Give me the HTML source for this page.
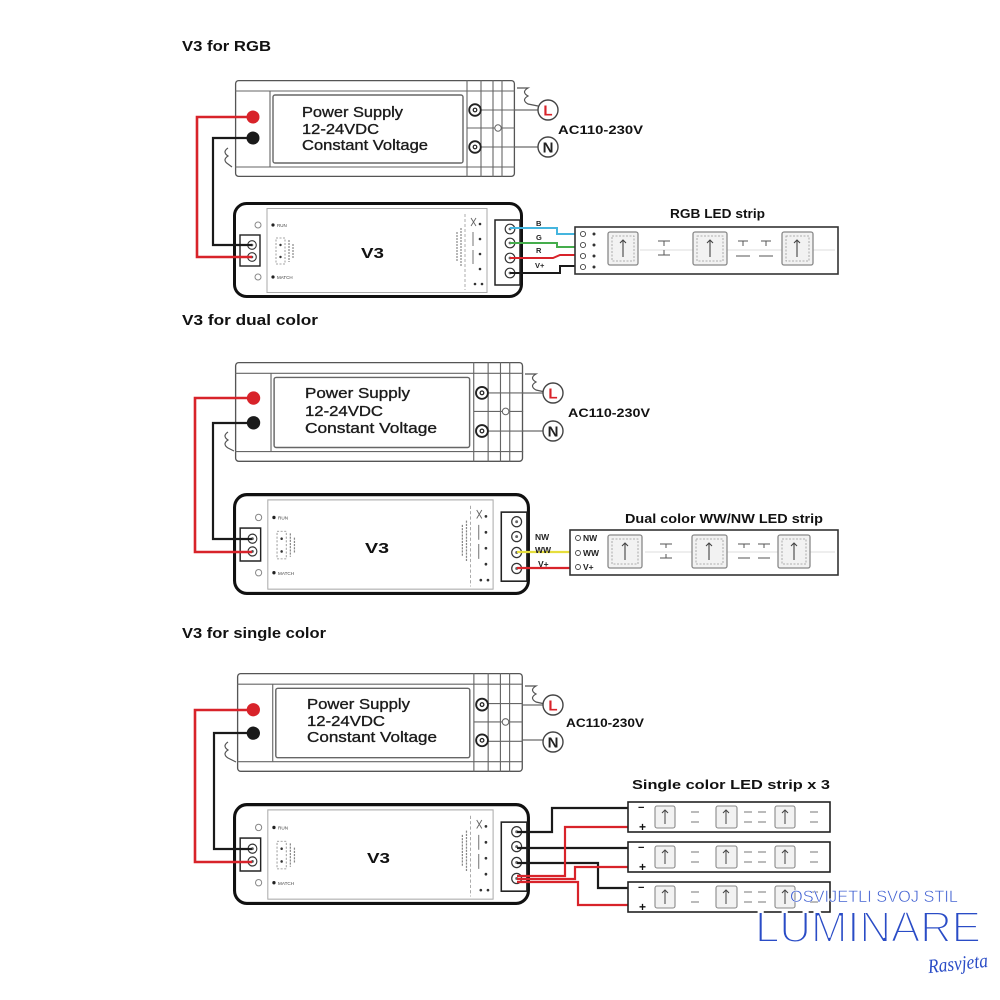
<!DOCTYPE html>
<html>
<head>
<meta charset="utf-8">
<style>
html,body{margin:0;padding:0;background:#fff;}
svg{display:block;}
text{font-family:"Liberation Sans",Arial,sans-serif;}
</style>
</head>
<body>
<svg width="1000" height="1000" viewBox="0 0 1000 1000" xmlns="http://www.w3.org/2000/svg">
<rect width="1000" height="1000" fill="#fff"/>

<!-- ================= SECTION 1 : RGB ================= -->
<text x="182" y="51" font-size="14.5" font-weight="bold" fill="#111" textLength="89" lengthAdjust="spacingAndGlyphs">V3 for RGB</text>

<g transform="translate(235,80)">
  <rect x="0.6" y="0.6" width="278.8" height="95.8" rx="3" fill="#fff" stroke="#555" stroke-width="1.3"/>
  <g stroke="#666" stroke-width="1.1" fill="none">
    <line x1="0" y1="11" x2="280" y2="11"/><line x1="0" y1="87" x2="280" y2="87"/>
    <line x1="35" y1="11" x2="35" y2="87"/>
    <line x1="232" y1="0" x2="232" y2="97"/><line x1="246" y1="0" x2="246" y2="97"/>
    <line x1="258" y1="0" x2="258" y2="97"/><line x1="267" y1="0" x2="267" y2="97"/>
    <line x1="232" y1="48" x2="280" y2="48"/>
    <line x1="246" y1="30" x2="280" y2="30"/><line x1="246" y1="67" x2="280" y2="67"/>
  </g>
  <rect x="38" y="15" width="190" height="68" rx="2" fill="#fff" stroke="#666" stroke-width="1.4"/>
  <circle cx="263" cy="48" r="3.2" fill="#fff" stroke="#666"/>
  <circle cx="240" cy="30" r="5.8" fill="#fff" stroke="#222" stroke-width="1.8"/><circle cx="240" cy="30" r="1.8" fill="none" stroke="#222" stroke-width="1.2"/>
  <circle cx="240" cy="67" r="5.8" fill="#fff" stroke="#222" stroke-width="1.8"/><circle cx="240" cy="67" r="1.8" fill="none" stroke="#222" stroke-width="1.2"/>
  <circle cx="18" cy="37" r="6.5" fill="#d8232a"/>
  <circle cx="18" cy="58" r="6.5" fill="#1a1a1a"/>
</g>
<g fill="#1a1a1a" stroke="#222" stroke-width="0.35">
  <text x="302" y="117" font-size="14.5" textLength="101" lengthAdjust="spacingAndGlyphs">Power Supply</text>
  <text x="302" y="134" font-size="14.5" textLength="77" lengthAdjust="spacingAndGlyphs">12-24VDC</text>
  <text x="302" y="150" font-size="14.5" textLength="126" lengthAdjust="spacingAndGlyphs">Constant Voltage</text>
</g>
<path d="M228,148 Q222,152 228,156 Q222,160 228,164 L232,167" fill="none" stroke="#555" stroke-width="1.2"/>
<path d="M517,88 H528 Q521,92 528,96 Q521,100 528,104 L538,106" fill="none" stroke="#555" stroke-width="1.2"/>
<g stroke="#444" stroke-width="1.1"><line x1="515" y1="110" x2="538" y2="110"/><line x1="515" y1="147" x2="538" y2="147"/></g>
<circle cx="548" cy="110" r="10" fill="#fff" stroke="#444" stroke-width="1.4"/>
<circle cx="548" cy="147" r="10" fill="#fff" stroke="#444" stroke-width="1.4"/>
<text x="548" y="115.5" font-size="15" font-weight="bold" fill="#d8232a" text-anchor="middle">L</text>
<text x="548" y="152.5" font-size="15" font-weight="bold" fill="#222" text-anchor="middle">N</text>
<text x="558" y="134" font-size="12" font-weight="bold" fill="#111" textLength="85" lengthAdjust="spacingAndGlyphs">AC110-230V</text>

<g transform="translate(233,202)">
  <rect x="1.5" y="1.5" width="287" height="93" rx="12" fill="#fff" stroke="#111" stroke-width="3"/>
  <rect x="34" y="6.5" width="220" height="84" fill="none" stroke="#aaa" stroke-width="1"/>
  <rect x="7" y="33" width="20" height="31" fill="#fff" stroke="#222" stroke-width="1.4"/>
  <g fill="#fff" stroke="#333" stroke-width="1.1"><circle cx="19" cy="43" r="4.3"/><circle cx="19" cy="55" r="4.3"/></g>
  <g fill="#555"><circle cx="19" cy="43" r="1.3"/><circle cx="19" cy="55" r="1.3"/></g>
  <g fill="none" stroke="#888" stroke-width="1"><circle cx="25" cy="23" r="3"/><circle cx="25" cy="75" r="3"/></g>
  <circle cx="40" cy="23" r="1.6" fill="#222"/><circle cx="40" cy="75" r="1.6" fill="#222"/>
  <text x="44" y="25" font-size="4.5" fill="#444">RUN</text><text x="44" y="77" font-size="4.5" fill="#444">MATCH</text>
  <rect x="43" y="36" width="9" height="26" fill="none" stroke="#888" stroke-dasharray="2 1.5" stroke-width="0.8"/>
  <circle cx="47.5" cy="43" r="1.2" fill="#333"/><circle cx="47.5" cy="55" r="1.2" fill="#333"/>
  <path d="M56,38 V60 M60,42 V56" stroke="#888" stroke-width="1.2" stroke-dasharray="2 1"/>
  <path d="M232,12 V88" stroke="#999" stroke-width="0.8" stroke-dasharray="3 2"/>
  <path d="M224,30 V60 M228,26 V64" stroke="#888" stroke-width="1.2" stroke-dasharray="2 1"/>
  <g fill="#333"><circle cx="247" cy="22" r="1.3"/><circle cx="247" cy="37" r="1.3"/><circle cx="247" cy="52" r="1.3"/><circle cx="247" cy="67" r="1.3"/><circle cx="242" cy="82" r="1.3"/><circle cx="249" cy="82" r="1.3"/></g>
  <path d="M238,16 L243,24 M243,16 L238,24 M240,30 V44 M240,48 V62" stroke="#666" stroke-width="0.9"/>
  <rect x="262" y="18" width="25" height="65" fill="#fff" stroke="#222" stroke-width="1.5"/>
  <g fill="#fff" stroke="#333" stroke-width="1.2"><circle cx="277" cy="27" r="4.8"/><circle cx="277" cy="41" r="4.8"/><circle cx="277" cy="56" r="4.8"/><circle cx="277" cy="71" r="4.8"/></g>
  <g fill="#666"><circle cx="277" cy="27" r="1.4"/><circle cx="277" cy="41" r="1.4"/><circle cx="277" cy="56" r="1.4"/><circle cx="277" cy="71" r="1.4"/></g>
</g>
<text x="361" y="258" font-size="15" font-weight="bold" fill="#111" textLength="23" lengthAdjust="spacingAndGlyphs">V3</text>

<path d="M253,117 H197 V257 H252" fill="none" stroke="#d8232a" stroke-width="2.6"/>
<path d="M253,138 H213 V245 H252" fill="none" stroke="#1a1a1a" stroke-width="2.2"/>

<path d="M510,228 H557 V234 H578" fill="none" stroke="#45b5de" stroke-width="2"/>
<path d="M510,243 H557 V247 H578" fill="none" stroke="#45ad4c" stroke-width="2"/>
<path d="M510,258 H553 L560,255 H578" fill="none" stroke="#d8232a" stroke-width="2"/>
<path d="M510,273 H560 V266 H578" fill="none" stroke="#1a1a1a" stroke-width="2"/>
<g font-size="7.5" font-weight="bold" fill="#222">
  <text x="536" y="226">B</text><text x="536" y="240">G</text><text x="536" y="253">R</text><text x="535" y="268">V+</text>
</g>

<text x="670" y="218" font-size="12.5" font-weight="bold" fill="#111" textLength="95" lengthAdjust="spacingAndGlyphs">RGB LED strip</text>
<rect x="575" y="227" width="263" height="47" fill="#fff" stroke="#333" stroke-width="1.6"/>
<line x1="640" y1="250" x2="835" y2="250" stroke="#ddd" stroke-width="1"/>
<g fill="#fff" stroke="#444" stroke-width="0.9"><circle cx="583" cy="234" r="2.6"/><circle cx="583" cy="245" r="2.6"/><circle cx="583" cy="256" r="2.6"/><circle cx="583" cy="267" r="2.6"/></g>
<g fill="#333"><circle cx="594" cy="234" r="1.5"/><circle cx="594" cy="245" r="1.5"/><circle cx="594" cy="256" r="1.5"/><circle cx="594" cy="267" r="1.5"/></g>
<g>
  <rect x="608" y="232" width="30" height="33" rx="2" fill="#f2f2f2" stroke="#888" stroke-width="1.3"/>
  <rect x="612" y="236" width="22" height="25" fill="none" stroke="#999" stroke-width="0.8" stroke-dasharray="2 1.5"/>
  <path d="M623,240 V257 M620,243 L623,240 L626,243" fill="none" stroke="#444" stroke-width="1.1"/>
  <rect x="693" y="232" width="34" height="33" rx="2" fill="#f2f2f2" stroke="#888" stroke-width="1.3"/>
  <rect x="697" y="236" width="26" height="25" fill="none" stroke="#999" stroke-width="0.8" stroke-dasharray="2 1.5"/>
  <path d="M710,240 V257 M707,243 L710,240 L713,243" fill="none" stroke="#444" stroke-width="1.1"/>
  <rect x="782" y="232" width="31" height="33" rx="2" fill="#f2f2f2" stroke="#888" stroke-width="1.3"/>
  <rect x="786" y="236" width="23" height="25" fill="none" stroke="#999" stroke-width="0.8" stroke-dasharray="2 1.5"/>
  <path d="M797,240 V257 M794,243 L797,240 L800,243" fill="none" stroke="#444" stroke-width="1.1"/>
  <path d="M658,241 H670 M664,241 V246 M658,255 H670 M664,250 V255" stroke="#555" stroke-width="1"/>
  <path d="M738,241 H748 M743,241 V246 M736,256 H750 M761,241 H771 M766,241 V246 M759,256 H773" stroke="#555" stroke-width="1"/>
</g>

<!-- ================= SECTION 2 : DUAL ================= -->
<text x="182" y="325" font-size="14.5" font-weight="bold" fill="#111" textLength="136" lengthAdjust="spacingAndGlyphs">V3 for dual color</text>

<g transform="translate(235,362) scale(1.029,1.03)">
  <rect x="0.6" y="0.6" width="278.8" height="95.8" rx="3" fill="#fff" stroke="#555" stroke-width="1.3"/>
  <g stroke="#666" stroke-width="1.1" fill="none">
    <line x1="0" y1="11" x2="280" y2="11"/><line x1="0" y1="87" x2="280" y2="87"/>
    <line x1="35" y1="11" x2="35" y2="87"/>
    <line x1="232" y1="0" x2="232" y2="97"/><line x1="246" y1="0" x2="246" y2="97"/>
    <line x1="258" y1="0" x2="258" y2="97"/><line x1="267" y1="0" x2="267" y2="97"/>
    <line x1="232" y1="48" x2="280" y2="48"/>
    <line x1="246" y1="30" x2="280" y2="30"/><line x1="246" y1="67" x2="280" y2="67"/>
  </g>
  <rect x="38" y="15" width="190" height="68" rx="2" fill="#fff" stroke="#666" stroke-width="1.4"/>
  <circle cx="263" cy="48" r="3.2" fill="#fff" stroke="#666"/>
  <circle cx="240" cy="30" r="5.8" fill="#fff" stroke="#222" stroke-width="1.8"/><circle cx="240" cy="30" r="1.8" fill="none" stroke="#222" stroke-width="1.2"/>
  <circle cx="240" cy="67" r="5.8" fill="#fff" stroke="#222" stroke-width="1.8"/><circle cx="240" cy="67" r="1.8" fill="none" stroke="#222" stroke-width="1.2"/>
  <circle cx="18" cy="35" r="6.5" fill="#d8232a"/>
  <circle cx="18" cy="59" r="6.5" fill="#1a1a1a"/>
</g>
<g fill="#1a1a1a" stroke="#222" stroke-width="0.35">
  <text x="305" y="398" font-size="15" textLength="105" lengthAdjust="spacingAndGlyphs">Power Supply</text>
  <text x="305" y="416" font-size="15" textLength="78" lengthAdjust="spacingAndGlyphs">12-24VDC</text>
  <text x="305" y="433" font-size="15" textLength="132" lengthAdjust="spacingAndGlyphs">Constant Voltage</text>
</g>
<path d="M228,432 Q222,436 228,440 Q222,444 228,448 L234,451" fill="none" stroke="#555" stroke-width="1.2"/>
<path d="M525,374 H536 Q529,378 536,382 Q529,386 536,390 L545,392" fill="none" stroke="#555" stroke-width="1.2"/>
<g stroke="#444" stroke-width="1.1"><line x1="523" y1="393" x2="543" y2="393"/><line x1="523" y1="431" x2="543" y2="431"/></g>
<circle cx="553" cy="393" r="10" fill="#fff" stroke="#444" stroke-width="1.4"/>
<circle cx="553" cy="431" r="10" fill="#fff" stroke="#444" stroke-width="1.4"/>
<text x="553" y="398.5" font-size="15" font-weight="bold" fill="#d8232a" text-anchor="middle">L</text>
<text x="553" y="436.5" font-size="15" font-weight="bold" fill="#222" text-anchor="middle">N</text>
<text x="568" y="417" font-size="12" font-weight="bold" fill="#111" textLength="82" lengthAdjust="spacingAndGlyphs">AC110-230V</text>

<g transform="translate(233,493) scale(1.024,1.0625)">
  <rect x="1.5" y="1.5" width="287" height="93" rx="12" fill="#fff" stroke="#111" stroke-width="3"/>
  <rect x="34" y="6.5" width="220" height="84" fill="none" stroke="#aaa" stroke-width="1"/>
  <rect x="7" y="33" width="20" height="31" fill="#fff" stroke="#222" stroke-width="1.4"/>
  <g fill="#fff" stroke="#333" stroke-width="1.1"><circle cx="19" cy="43" r="4.3"/><circle cx="19" cy="55" r="4.3"/></g>
  <g fill="#555"><circle cx="19" cy="43" r="1.3"/><circle cx="19" cy="55" r="1.3"/></g>
  <g fill="none" stroke="#888" stroke-width="1"><circle cx="25" cy="23" r="3"/><circle cx="25" cy="75" r="3"/></g>
  <circle cx="40" cy="23" r="1.6" fill="#222"/><circle cx="40" cy="75" r="1.6" fill="#222"/>
  <text x="44" y="25" font-size="4.5" fill="#444">RUN</text><text x="44" y="77" font-size="4.5" fill="#444">MATCH</text>
  <rect x="43" y="36" width="9" height="26" fill="none" stroke="#888" stroke-dasharray="2 1.5" stroke-width="0.8"/>
  <circle cx="47.5" cy="43" r="1.2" fill="#333"/><circle cx="47.5" cy="55" r="1.2" fill="#333"/>
  <path d="M56,38 V60 M60,42 V56" stroke="#888" stroke-width="1.2" stroke-dasharray="2 1"/>
  <path d="M232,12 V88" stroke="#999" stroke-width="0.8" stroke-dasharray="3 2"/>
  <path d="M224,30 V60 M228,26 V64" stroke="#888" stroke-width="1.2" stroke-dasharray="2 1"/>
  <g fill="#333"><circle cx="247" cy="22" r="1.3"/><circle cx="247" cy="37" r="1.3"/><circle cx="247" cy="52" r="1.3"/><circle cx="247" cy="67" r="1.3"/><circle cx="242" cy="82" r="1.3"/><circle cx="249" cy="82" r="1.3"/></g>
  <path d="M238,16 L243,24 M243,16 L238,24 M240,30 V44 M240,48 V62" stroke="#666" stroke-width="0.9"/>
  <rect x="262" y="18" width="25" height="65" fill="#fff" stroke="#222" stroke-width="1.5"/>
  <g fill="#fff" stroke="#333" stroke-width="1.2"><circle cx="277" cy="27" r="4.8"/><circle cx="277" cy="41" r="4.8"/><circle cx="277" cy="56" r="4.8"/><circle cx="277" cy="71" r="4.8"/></g>
  <g fill="#666"><circle cx="277" cy="27" r="1.4"/><circle cx="277" cy="41" r="1.4"/><circle cx="277" cy="56" r="1.4"/><circle cx="277" cy="71" r="1.4"/></g>
</g>
<text x="365" y="553" font-size="15" font-weight="bold" fill="#111" textLength="24" lengthAdjust="spacingAndGlyphs">V3</text>

<path d="M253,398 H195 V552 H252" fill="none" stroke="#d8232a" stroke-width="2.6"/>
<path d="M253,423 H213 V539 H252" fill="none" stroke="#1a1a1a" stroke-width="2.2"/>

<path d="M517,552 H575" fill="none" stroke="#e6de3c" stroke-width="2.2"/>
<path d="M517,568 H575" fill="none" stroke="#d8232a" stroke-width="2.2"/>
<g font-size="8.5" font-weight="bold" fill="#222">
  <text x="535" y="540">NW</text><text x="535" y="553">WW</text><text x="538" y="567">V+</text>
</g>

<text x="625" y="523" font-size="13" font-weight="bold" fill="#111" textLength="198" lengthAdjust="spacingAndGlyphs">Dual color WW/NW LED strip</text>
<rect x="570" y="530" width="268" height="45" fill="#fff" stroke="#333" stroke-width="1.6"/>
<line x1="645" y1="552" x2="835" y2="552" stroke="#ddd" stroke-width="1"/>
<g fill="#fff" stroke="#444" stroke-width="0.9"><circle cx="578" cy="538" r="2.5"/><circle cx="578" cy="553" r="2.5"/><circle cx="578" cy="567" r="2.5"/></g>
<g font-size="8.5" font-weight="bold" fill="#222">
  <text x="583" y="541">NW</text><text x="583" y="556">WW</text><text x="583" y="570">V+</text>
</g>
<g>
  <rect x="608" y="535" width="34" height="33" rx="2" fill="#f2f2f2" stroke="#888" stroke-width="1.3"/>
  <rect x="612" y="539" width="26" height="25" fill="none" stroke="#999" stroke-width="0.8" stroke-dasharray="2 1.5"/>
  <path d="M625,543 V560 M622,546 L625,543 L628,546" fill="none" stroke="#444" stroke-width="1.1"/>
  <rect x="692" y="535" width="35" height="33" rx="2" fill="#f2f2f2" stroke="#888" stroke-width="1.3"/>
  <rect x="696" y="539" width="27" height="25" fill="none" stroke="#999" stroke-width="0.8" stroke-dasharray="2 1.5"/>
  <path d="M709,543 V560 M706,546 L709,543 L712,546" fill="none" stroke="#444" stroke-width="1.1"/>
  <rect x="778" y="535" width="32" height="33" rx="2" fill="#f2f2f2" stroke="#888" stroke-width="1.3"/>
  <rect x="782" y="539" width="24" height="25" fill="none" stroke="#999" stroke-width="0.8" stroke-dasharray="2 1.5"/>
  <path d="M794,543 V560 M791,546 L794,543 L797,546" fill="none" stroke="#444" stroke-width="1.1"/>
  <path d="M660,544 H672 M666,544 V548 M660,558 H672 M666,554 V558" stroke="#555" stroke-width="1"/>
  <path d="M738,544 H750 M744,544 V548 M738,558 H750 M758,544 H770 M764,544 V548 M758,558 H770" stroke="#555" stroke-width="1"/>
</g>

<!-- ================= SECTION 3 : SINGLE ================= -->
<text x="182" y="638" font-size="14.5" font-weight="bold" fill="#111" textLength="144" lengthAdjust="spacingAndGlyphs">V3 for single color</text>

<g transform="translate(237,673) scale(1.021,1.02)">
  <rect x="0.6" y="0.6" width="278.8" height="95.8" rx="3" fill="#fff" stroke="#555" stroke-width="1.3"/>
  <g stroke="#666" stroke-width="1.1" fill="none">
    <line x1="0" y1="11" x2="280" y2="11"/><line x1="0" y1="87" x2="280" y2="87"/>
    <line x1="35" y1="11" x2="35" y2="87"/>
    <line x1="232" y1="0" x2="232" y2="97"/><line x1="246" y1="0" x2="246" y2="97"/>
    <line x1="258" y1="0" x2="258" y2="97"/><line x1="267" y1="0" x2="267" y2="97"/>
    <line x1="232" y1="48" x2="280" y2="48"/>
    <line x1="246" y1="30" x2="280" y2="30"/><line x1="246" y1="67" x2="280" y2="67"/>
  </g>
  <rect x="38" y="15" width="190" height="68" rx="2" fill="#fff" stroke="#666" stroke-width="1.4"/>
  <circle cx="263" cy="48" r="3.2" fill="#fff" stroke="#666"/>
  <circle cx="240" cy="31" r="5.8" fill="#fff" stroke="#222" stroke-width="1.8"/><circle cx="240" cy="31" r="1.8" fill="none" stroke="#222" stroke-width="1.2"/>
  <circle cx="240" cy="66" r="5.8" fill="#fff" stroke="#222" stroke-width="1.8"/><circle cx="240" cy="66" r="1.8" fill="none" stroke="#222" stroke-width="1.2"/>
  <circle cx="16" cy="36" r="6.5" fill="#d8232a"/>
  <circle cx="16" cy="59" r="6.5" fill="#1a1a1a"/>
</g>
<g fill="#1a1a1a" stroke="#222" stroke-width="0.35">
  <text x="307" y="709" font-size="15" textLength="103" lengthAdjust="spacingAndGlyphs">Power Supply</text>
  <text x="307" y="726" font-size="15" textLength="78" lengthAdjust="spacingAndGlyphs">12-24VDC</text>
  <text x="307" y="742" font-size="15" textLength="130" lengthAdjust="spacingAndGlyphs">Constant Voltage</text>
</g>
<path d="M228,742 Q222,746 228,750 Q222,754 228,758 L236,762" fill="none" stroke="#555" stroke-width="1.2"/>
<path d="M525,686 H536 Q529,690 536,694 Q529,698 536,702 L545,704" fill="none" stroke="#555" stroke-width="1.2"/>
<g stroke="#444" stroke-width="1.1"><line x1="523" y1="705" x2="543" y2="705"/><line x1="523" y1="740" x2="543" y2="740"/></g>
<circle cx="553" cy="705" r="10" fill="#fff" stroke="#444" stroke-width="1.4"/>
<circle cx="553" cy="742" r="10" fill="#fff" stroke="#444" stroke-width="1.4"/>
<text x="553" y="710.5" font-size="15" font-weight="bold" fill="#d8232a" text-anchor="middle">L</text>
<text x="553" y="747.5" font-size="15" font-weight="bold" fill="#222" text-anchor="middle">N</text>
<text x="566" y="727" font-size="12" font-weight="bold" fill="#111" textLength="78" lengthAdjust="spacingAndGlyphs">AC110-230V</text>

<g transform="translate(233,803) scale(1.024,1.0625)">
  <rect x="1.5" y="1.5" width="287" height="93" rx="12" fill="#fff" stroke="#111" stroke-width="3"/>
  <rect x="34" y="6.5" width="220" height="84" fill="none" stroke="#aaa" stroke-width="1"/>
  <rect x="7" y="33" width="20" height="31" fill="#fff" stroke="#222" stroke-width="1.4"/>
  <g fill="#fff" stroke="#333" stroke-width="1.1"><circle cx="19" cy="43" r="4.3"/><circle cx="19" cy="55" r="4.3"/></g>
  <g fill="#555"><circle cx="19" cy="43" r="1.3"/><circle cx="19" cy="55" r="1.3"/></g>
  <g fill="none" stroke="#888" stroke-width="1"><circle cx="25" cy="23" r="3"/><circle cx="25" cy="75" r="3"/></g>
  <circle cx="40" cy="23" r="1.6" fill="#222"/><circle cx="40" cy="75" r="1.6" fill="#222"/>
  <text x="44" y="25" font-size="4.5" fill="#444">RUN</text><text x="44" y="77" font-size="4.5" fill="#444">MATCH</text>
  <rect x="43" y="36" width="9" height="26" fill="none" stroke="#888" stroke-dasharray="2 1.5" stroke-width="0.8"/>
  <circle cx="47.5" cy="43" r="1.2" fill="#333"/><circle cx="47.5" cy="55" r="1.2" fill="#333"/>
  <path d="M56,38 V60 M60,42 V56" stroke="#888" stroke-width="1.2" stroke-dasharray="2 1"/>
  <path d="M232,12 V88" stroke="#999" stroke-width="0.8" stroke-dasharray="3 2"/>
  <path d="M224,30 V60 M228,26 V64" stroke="#888" stroke-width="1.2" stroke-dasharray="2 1"/>
  <g fill="#333"><circle cx="247" cy="22" r="1.3"/><circle cx="247" cy="37" r="1.3"/><circle cx="247" cy="52" r="1.3"/><circle cx="247" cy="67" r="1.3"/><circle cx="242" cy="82" r="1.3"/><circle cx="249" cy="82" r="1.3"/></g>
  <path d="M238,16 L243,24 M243,16 L238,24 M240,30 V44 M240,48 V62" stroke="#666" stroke-width="0.9"/>
  <rect x="262" y="18" width="25" height="65" fill="#fff" stroke="#222" stroke-width="1.5"/>
  <g fill="#fff" stroke="#333" stroke-width="1.2"><circle cx="277" cy="27" r="4.8"/><circle cx="277" cy="41" r="4.8"/><circle cx="277" cy="56" r="4.8"/><circle cx="277" cy="71" r="4.8"/></g>
  <g fill="#666"><circle cx="277" cy="27" r="1.4"/><circle cx="277" cy="41" r="1.4"/><circle cx="277" cy="56" r="1.4"/><circle cx="277" cy="71" r="1.4"/></g>
</g>
<text x="367" y="863" font-size="15" font-weight="bold" fill="#111" textLength="23" lengthAdjust="spacingAndGlyphs">V3</text>

<path d="M253,710 H195 V862 H252" fill="none" stroke="#d8232a" stroke-width="2.6"/>
<path d="M253,733 H214 V849 H252" fill="none" stroke="#1a1a1a" stroke-width="2.2"/>

<g fill="none" stroke-width="2.2">
  <path d="M517,832 H552 V808 H632" stroke="#1a1a1a"/>
  <path d="M517,848 H632" stroke="#1a1a1a"/>
  <path d="M517,863 H598 V888 H632" stroke="#1a1a1a"/>
  <path d="M517,876 H565 V827 H632" stroke="#d8232a"/>
  <path d="M517,879 H575 V867 H632" stroke="#d8232a"/>
  <path d="M517,882 H578 V905 H632" stroke="#d8232a"/>
</g>

<text x="632" y="789" font-size="13" font-weight="bold" fill="#111" textLength="198" lengthAdjust="spacingAndGlyphs">Single color LED strip x 3</text>

<g>
  <rect x="628" y="802" width="202" height="30" fill="#fff" stroke="#222" stroke-width="1.6"/>
  <text x="638" y="811" font-size="11" font-weight="bold" fill="#111">−</text>
  <text x="639" y="831" font-size="12" font-weight="bold" fill="#111">+</text>
  <rect x="655" y="806" width="20" height="22" rx="2" fill="#f2f2f2" stroke="#888" stroke-width="1.1"/>
  <path d="M665,810 V824 M662,813 L665,810 L668,813" fill="none" stroke="#444" stroke-width="1"/>
  <rect x="716" y="806" width="21" height="22" rx="2" fill="#f2f2f2" stroke="#888" stroke-width="1.1"/>
  <path d="M726,810 V824 M723,813 L726,810 L729,813" fill="none" stroke="#444" stroke-width="1"/>
  <rect x="775" y="806" width="20" height="22" rx="2" fill="#f2f2f2" stroke="#888" stroke-width="1.1"/>
  <path d="M785,810 V824 M782,813 L785,810 L788,813" fill="none" stroke="#444" stroke-width="1"/>
  <path d="M691,812 H699 M691,822 H699 M744,812 H752 M744,822 H752 M758,812 H766 M758,822 H766 M810,812 H818 M810,822 H818" stroke="#777" stroke-width="1"/>
</g>
<g>
  <rect x="628" y="842" width="202" height="30" fill="#fff" stroke="#222" stroke-width="1.6"/>
  <text x="638" y="851" font-size="11" font-weight="bold" fill="#111">−</text>
  <text x="639" y="871" font-size="12" font-weight="bold" fill="#111">+</text>
  <rect x="655" y="846" width="20" height="22" rx="2" fill="#f2f2f2" stroke="#888" stroke-width="1.1"/>
  <path d="M665,850 V864 M662,853 L665,850 L668,853" fill="none" stroke="#444" stroke-width="1"/>
  <rect x="716" y="846" width="21" height="22" rx="2" fill="#f2f2f2" stroke="#888" stroke-width="1.1"/>
  <path d="M726,850 V864 M723,853 L726,850 L729,853" fill="none" stroke="#444" stroke-width="1"/>
  <rect x="775" y="846" width="20" height="22" rx="2" fill="#f2f2f2" stroke="#888" stroke-width="1.1"/>
  <path d="M785,850 V864 M782,853 L785,850 L788,853" fill="none" stroke="#444" stroke-width="1"/>
  <path d="M691,852 H699 M691,862 H699 M744,852 H752 M744,862 H752 M758,852 H766 M758,862 H766 M810,852 H818 M810,862 H818" stroke="#777" stroke-width="1"/>
</g>
<g>
  <rect x="628" y="882" width="202" height="30" fill="#fff" stroke="#222" stroke-width="1.6"/>
  <text x="638" y="891" font-size="11" font-weight="bold" fill="#111">−</text>
  <text x="639" y="911" font-size="12" font-weight="bold" fill="#111">+</text>
  <rect x="655" y="886" width="20" height="22" rx="2" fill="#f2f2f2" stroke="#888" stroke-width="1.1"/>
  <path d="M665,890 V904 M662,893 L665,890 L668,893" fill="none" stroke="#444" stroke-width="1"/>
  <rect x="716" y="886" width="21" height="22" rx="2" fill="#f2f2f2" stroke="#888" stroke-width="1.1"/>
  <path d="M726,890 V904 M723,893 L726,890 L729,893" fill="none" stroke="#444" stroke-width="1"/>
  <rect x="775" y="886" width="20" height="22" rx="2" fill="#f2f2f2" stroke="#888" stroke-width="1.1"/>
  <path d="M785,890 V904 M782,893 L785,890 L788,893" fill="none" stroke="#444" stroke-width="1"/>
  <path d="M691,892 H699 M691,902 H699 M744,892 H752 M744,902 H752 M758,892 H766 M758,902 H766 M810,892 H818 M810,902 H818" stroke="#777" stroke-width="1"/>
</g>

<!-- ================= WATERMARK ================= -->
<text x="790" y="902" font-size="16.5" fill="#3a5bd0" stroke="#fff" stroke-width="0.5" paint-order="fill" textLength="168" lengthAdjust="spacingAndGlyphs">OSVIJETLI SVOJ STIL</text>
<text x="755" y="942" font-size="44" fill="#2a4cc6" stroke="#fff" stroke-width="2" paint-order="fill" textLength="226" lengthAdjust="spacing">LUMINARE</text>
<text x="928" y="970" font-size="20" font-style="italic" fill="#2a4cc6" transform="rotate(-6 958 965)" style="font-family:'Liberation Serif',serif;" textLength="60" lengthAdjust="spacingAndGlyphs">Rasvjeta</text>
</svg>
</body>
</html>
